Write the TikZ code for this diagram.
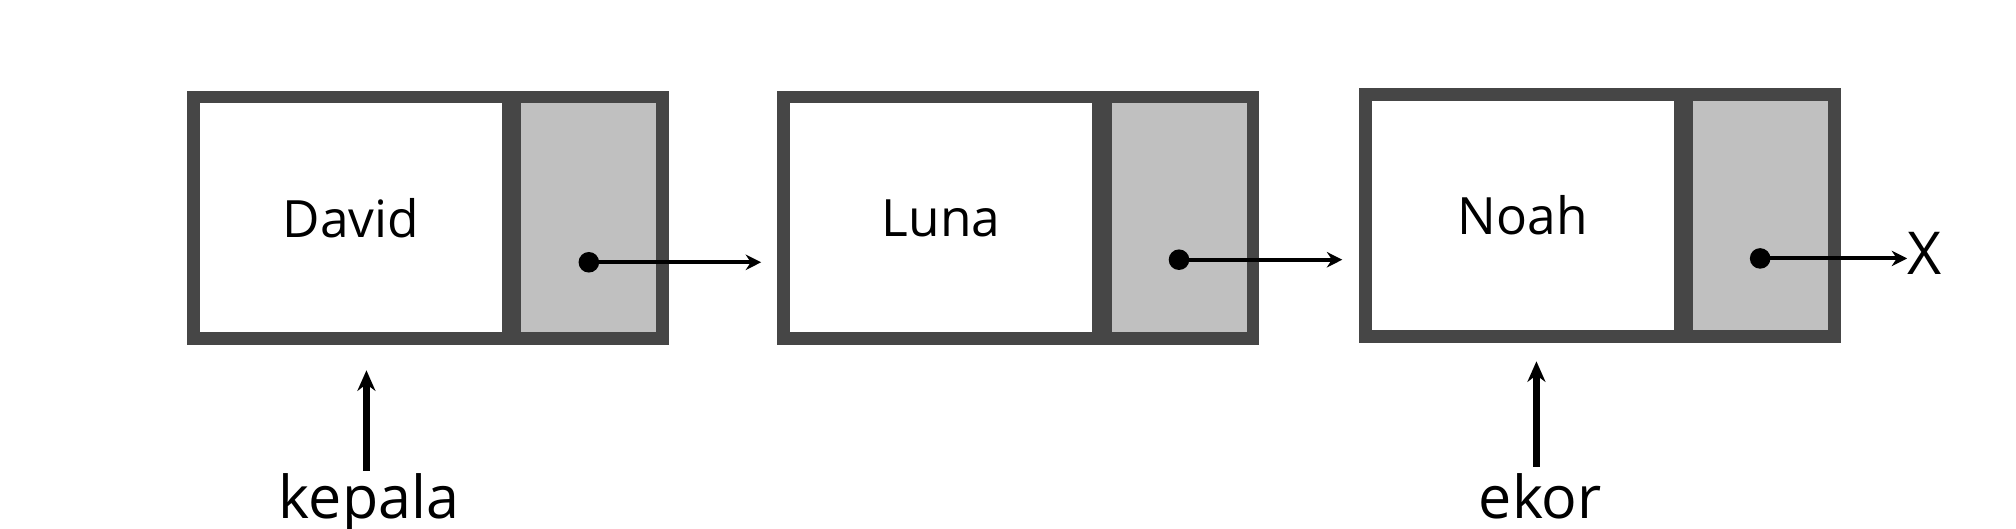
\documentclass[tikz,border=0pt]{standalone}
\usepackage{fontspec}
\setmainfont{Open Sans}
\usepackage{tikz}
\usetikzlibrary{arrows.meta}
\definecolor{rim}{RGB}{70,70,70}
\definecolor{ptr}{RGB}{192,192,192}

\begin{document}
\begin{tikzpicture}[x=0.5pt, y=-0.5pt,
		databox/.style={draw=rim, line width=5pt, fill=white, minimum width=122.5pt, minimum height=94pt, inner sep=0, font=\fontsize{20}{24}\selectfont},
		nextbox/.style={draw=rim, line width=5pt, fill=ptr, minimum width=57.5pt, minimum height=94pt, inner sep=0},
		link/.style={-{Stealth[length=6pt,width=6pt]}, line width=1.6pt},
		up/.style={-{Stealth[length=8pt,width=7pt]}, line width=2.5pt},
		tag/.style={font=\fontsize{23}{26}\selectfont, inner sep=0}]
			\useasboundingbox (0,0) rectangle (1568,411);
			% Nodes
			\node[databox] (d1) at (273,169.5) {David};
			\node[nextbox] (p1) at (458,169.5) {};
			\node[databox] (d2) at (732,169.5) {Luna};
			\node[nextbox] (p2) at (917,169.5) {};
			\node[databox] (d3) at (1184.5,167.5) {Noah};
			\node[nextbox] (p3) at (1369.5,167.5) {};
			\node[tag] (nil) at (1497,197) {X};
			\node[tag, anchor=north] (head) at (287,368) {kepala};
			\node[tag, anchor=north] (tail) at (1198,368) {ekor};
			\coordinate (e1) at (592,204);
			\coordinate (e2) at (1044,202);
			\coordinate (h0) at (285,366);
			\coordinate (h1) at (285,288);
			\coordinate (t0) at (1195,363);
			\coordinate (t1) at (1195,281);
			% Edges
			\fill (458,204) circle (8) coordinate (s1);
			\fill (917,202) circle (8) coordinate (s2);
			\fill (1369,201) circle (8) coordinate (s3);
			\draw[link] (s1) -- (e1);
			\draw[link] (s2) -- (e2);
			\draw[link] (s3) -- (nil.west |- s3);
			\draw[up] (h0) -- (h1);
			\draw[up] (t0) -- (t1);
		\end{tikzpicture}
\end{document}
